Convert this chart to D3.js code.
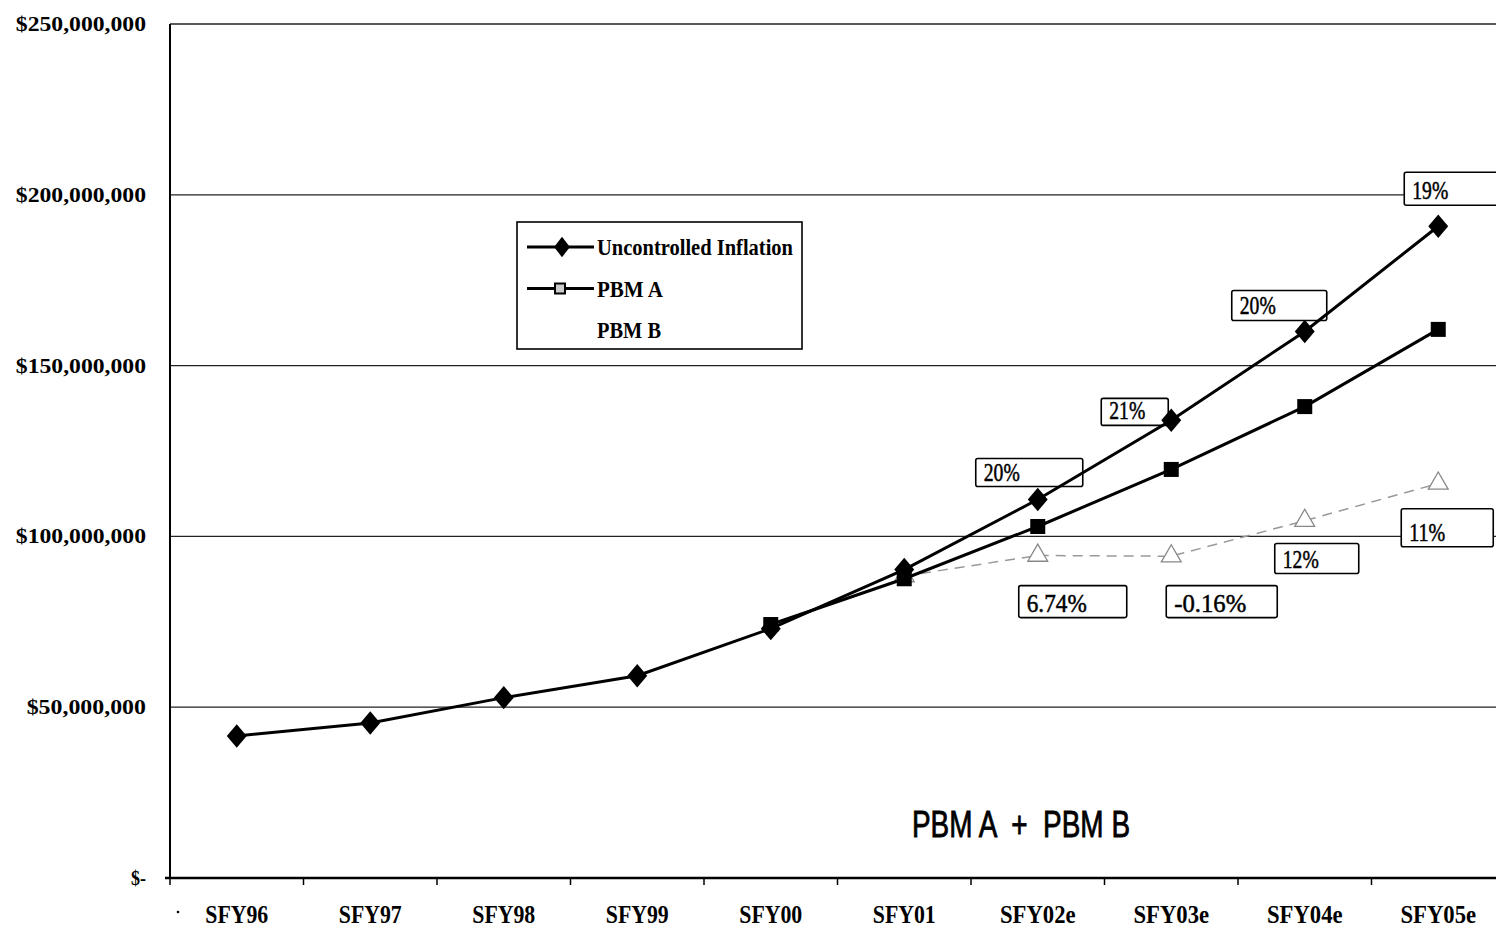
<!DOCTYPE html>
<html>
<head>
<meta charset="utf-8">
<script src="https://cdn.jsdelivr.net/npm/d3@7"></script>
<style>
  body { margin: 0; background: #fff; }
</style>
</head>
<body>
<div id="chart"></div>
<script>
const years = ["SFY96", "SFY97", "SFY98", "SFY99", "SFY00", "SFY01", "SFY02e", "SFY03e", "SFY04e", "SFY05e"];
const uncontrolled = [41.6, 45.4, 52.8, 59.2, 73.0, 90.3, 110.8, 134.0, 160.0, 190.8]; // millions
const pbmA = [null, null, null, null, 74.2, 87.6, 102.9, 119.6, 138.0, 160.6];
const pbmB = [null, null, null, null, null, 88.4, 94.4, 94.2, 104.6, 115.5];
const yTicks = [0, 50, 100, 150, 200, 250];
const upperLabels = [["SFY02e", "20%"], ["SFY03e", "21%"], ["SFY04e", "20%"], ["SFY05e", "19%"]];
const lowerLabels = [["SFY02e", "6.74%"], ["SFY03e", "-0.16%"], ["SFY04e", "12%"], ["SFY05e", "11%"]];

const W = 1496, H = 927;
const m = { left: 170, right: -9, top: 24, bottom: 49 };
const SERIF = "'Liberation Serif', 'Times New Roman', serif";

const svg = d3.select("#chart").append("svg")
  .attr("width", W).attr("height", H);

const x = d3.scaleBand().domain(years).range([m.left, W - m.right]);
const y = d3.scaleLinear().domain([0, 250]).range([H - m.bottom, m.top]);
const cx = d => x(d) + x.bandwidth() / 2;

// narrow serif text, squeezed to a given width
function ctext(sel, str, size, width, bold) {
  return sel.append("text")
    .attr("font-family", SERIF)
    .attr("font-weight", bold ? "bold" : "normal")
    .attr("font-size", size)
    .attr("textLength", width)
    .attr("lengthAdjust", "spacingAndGlyphs")
    .text(str);
}

// gridlines
svg.append("g").selectAll("line")
  .data(yTicks.filter(d => d > 0))
  .enter().append("line")
  .attr("x1", m.left).attr("x2", W)
  .attr("y1", d => y(d)).attr("y2", d => y(d))
  .attr("stroke", "#222").attr("stroke-width", 1.3);

// y axis labels
yTicks.forEach(d => {
  const lab = d === 0 ? "$-" : "$" + d3.format(",")(d * 1e6);
  const w = d === 0 ? 15 : lab.length * 10.85;
  ctext(svg, lab, 22, w, true)
    .attr("x", 146 - w).attr("y", y(d) + 7);
});

// y axis line
svg.append("line")
  .attr("x1", m.left).attr("x2", m.left)
  .attr("y1", m.top).attr("y2", y(0))
  .attr("stroke", "#000").attr("stroke-width", 2);

// x axis
svg.append("line")
  .attr("x1", m.left - 5).attr("x2", W)
  .attr("y1", y(0)).attr("y2", y(0))
  .attr("stroke", "#000").attr("stroke-width", 2.5);
svg.append("g").selectAll("line")
  .data(years)
  .enter().append("line")
  .attr("x1", d => x(d)).attr("x2", d => x(d))
  .attr("y1", y(0)).attr("y2", y(0) + 7)
  .attr("stroke", "#000").attr("stroke-width", 1.5);
years.forEach(d => {
  const w = d.length * 12.6;
  ctext(svg, d, 25, w, true).attr("x", cx(d) - w / 2).attr("y", 923);
});
svg.append("circle").attr("cx", 178).attr("cy", 912).attr("r", 1.3).attr("fill", "#000");

const line = d3.line()
  .defined(d => d[1] != null)
  .x(d => cx(d[0])).y(d => y(d[1]));

// PBM B (faint dashed)
const bPts = years.map((d, i) => [d, pbmB[i]]);
svg.append("path").datum(bPts)
  .attr("d", line).attr("fill", "none")
  .attr("stroke", "#999").attr("stroke-width", 1.5)
  .attr("stroke-dasharray", "10,7");
const tri = d3.symbol().type(d3.symbolTriangle).size(170);
svg.append("g").selectAll("path")
  .data(bPts.filter(d => d[1] != null))
  .enter().append("path")
  .attr("d", tri)
  .attr("transform", d => `translate(${cx(d[0])},${y(d[1])})`)
  .attr("fill", "#fff").attr("stroke", "#888").attr("stroke-width", 1.3);

// call-out boxes
function box(x0, y0, w, h, label) {
  const g = svg.append("g");
  g.append("rect")
    .attr("x", x0).attr("y", y0).attr("width", w).attr("height", h)
    .attr("fill", "#fff").attr("stroke", "#000").attr("stroke-width", 1.6).attr("rx", 2);
  ctext(g, label, 25, label.length * 12, false)
    .attr("x", x0 + 8).attr("y", y0 + h - 6)
    .attr("stroke", "#000").attr("stroke-width", 0.5);
}
const upperPos = [[-62, 122.8, 107, 28], [-70, 140.4, 67, 27], [-73, 172, 95, 30], [-34, 206.6, 100, 33]];
upperLabels.forEach((d, i) => {
  const p = upperPos[i];
  box(cx(d[0]) + p[0], y(p[1]), p[2], p[3], d[1]);
});
const lowerPos = [[-19, 85.6, 108, 32], [-5, 85.6, 111, 32], [-30, 97.9, 84, 30], [-37, 108.1, 92, 38]];
lowerLabels.forEach((d, i) => {
  const p = lowerPos[i];
  box(cx(d[0]) + p[0], y(p[1]), p[2], p[3], d[1]);
});

// PBM A
const aPts = years.map((d, i) => [d, pbmA[i]]);
svg.append("path").datum(aPts)
  .attr("d", line).attr("fill", "none")
  .attr("stroke", "#000").attr("stroke-width", 3);
svg.append("g").selectAll("rect")
  .data(aPts.filter(d => d[1] != null))
  .enter().append("rect")
  .attr("x", d => cx(d[0]) - 7.5).attr("y", d => y(d[1]) - 7.5)
  .attr("width", 15).attr("height", 15)
  .attr("fill", "#000");

// Uncontrolled inflation
const uPts = years.map((d, i) => [d, uncontrolled[i]]);
svg.append("path").datum(uPts)
  .attr("d", line).attr("fill", "none")
  .attr("stroke", "#000").attr("stroke-width", 3);
const diamond = d3.symbol().type(d3.symbolDiamond).size(220);
svg.append("g").selectAll("path")
  .data(uPts)
  .enter().append("path")
  .attr("d", diamond)
  .attr("transform", d => `translate(${cx(d[0])},${y(d[1])}) scale(1.25,0.85)`)
  .attr("fill", "#000");

// legend
const lg = svg.append("g").attr("transform", "translate(517,222)");
lg.append("rect").attr("width", 285).attr("height", 127)
  .attr("fill", "#fff").attr("stroke", "#000").attr("stroke-width", 1.6);
const legItems = ["Uncontrolled Inflation", "PBM A", "PBM B"];
const legW = [196, 66, 64];
legItems.forEach((name, i) => {
  const ly = 25 + i * 41.5;
  if (i < 2) {
    lg.append("line").attr("x1", 10).attr("x2", 77).attr("y1", ly).attr("y2", ly)
      .attr("stroke", "#000").attr("stroke-width", 3);
  }
  if (i === 0) {
    lg.append("path").attr("d", d3.symbol().type(d3.symbolDiamond).size(150))
      .attr("transform", `translate(45,${ly}) scale(1.2,0.9)`).attr("fill", "#000");
  } else if (i === 1) {
    lg.append("rect").attr("x", 38).attr("y", ly - 5).attr("width", 10).attr("height", 10)
      .attr("fill", "#ccc").attr("stroke", "#000").attr("stroke-width", 2);
  }
  ctext(lg, name, 24, legW[i], true).attr("x", 80).attr("y", ly + 8);
});

// bottom note
svg.append("text")
  .attr("x", 912).attr("y", 837)
  .attr("font-family", "'Liberation Sans', Arial, sans-serif")
  .attr("font-size", 36)
  .attr("stroke", "#000").attr("stroke-width", 0.8)
  .attr("textLength", 218).attr("lengthAdjust", "spacingAndGlyphs")
  .style("white-space", "pre")
  .text("PBM A  +  PBM B");
</script>
</body>
</html>
